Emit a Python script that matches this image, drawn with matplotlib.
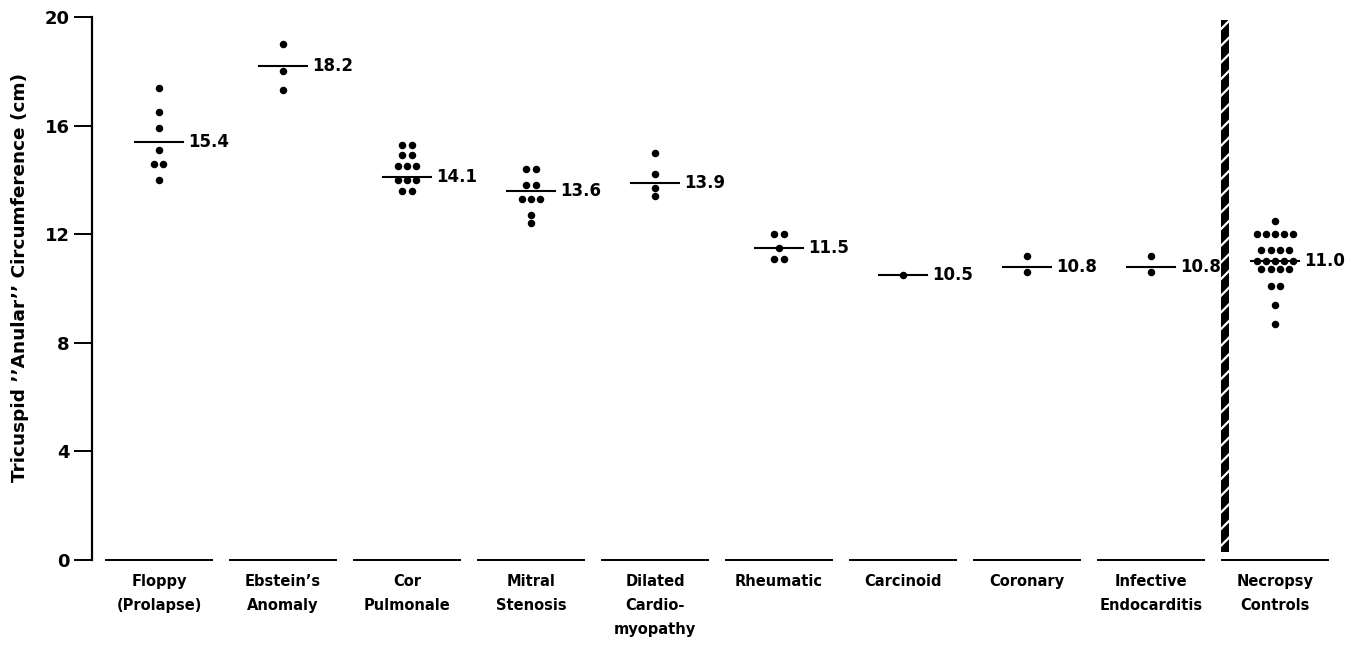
import matplotlib
matplotlib.use('Agg')
import matplotlib.pyplot as plt
from matplotlib.patches import Rectangle
import numpy as np

plt.rcParams['font.family'] = ['DejaVu Sans']
plt.rcParams['font.weight'] = 'bold'
plt.rcParams['hatch.linewidth'] = 1.6

# Groups, in the order they appear on the x axis
groups = ['Floppy\n(Prolapse)', 'Ebstein\u2019s\nAnomaly', 'Cor\nPulmonale',
          'Mitral\nStenosis', 'Dilated\nCardio-\nmyopathy', 'Rheumatic',
          'Carcinoid', 'Coronary', 'Infective\nEndocarditis', 'Necropsy\nControls']

floppy = [17.4, 16.5, 15.9, 15.1, 14.6, 14.6, 14.0]
ebstein = [19.0, 18.0, 17.3]
cor_pulmonale = [15.3, 15.3, 14.9, 14.9, 14.5, 14.5, 14.5, 14.0, 14.0, 14.0, 13.6, 13.6]
mitral = [14.4, 14.4, 13.8, 13.8, 13.3, 13.3, 13.3, 12.7, 12.4]
dilated = [15.0, 14.2, 13.7, 13.4]
rheumatic = [12.0, 12.0, 11.5, 11.1, 11.1]
carcinoid = [10.5]
coronary = [11.2, 10.6]
infective = [11.2, 10.6]
necropsy = [12.5, 12.0, 12.0, 12.0, 12.0, 12.0, 11.4, 11.4, 11.4, 11.4,
            11.0, 11.0, 11.0, 11.0, 11.0, 10.7, 10.7, 10.7, 10.7,
            10.1, 10.1, 9.4, 8.7]
values = [floppy, ebstein, cor_pulmonale, mitral, dilated, rheumatic,
          carcinoid, coronary, infective, necropsy]

# Group means as printed
means = [15.4, 18.2, 14.1, 13.6, 13.9, 11.5, 10.5, 10.8, 10.8, 11.0]
mean_labels = ['15.4', '18.2', '14.1', '13.6', '13.9', '11.5', '10.5', '10.8', '10.8', '11.0']

yticks = [0, 4, 8, 12, 16, 20]
divider_x = 8.597


def main():
    fig = plt.figure(figsize=(13.53, 6.53), dpi=100)
    ax = fig.add_axes([0.068, 0.1424, 0.9202, 0.8316])

    dot_gap = 0.073
    for i, vals in enumerate(values):
        # spread tied values side by side
        uniq, counts = np.unique(vals, return_counts=True)
        for v, n in zip(uniq, counts):
            xs = i + (np.arange(n) - (n - 1) / 2) * dot_gap
            ax.plot(xs, [v] * n, 'o', color='black', markersize=4.4, clip_on=False)
        ax.plot([i - 0.19, i + 0.19], [means[i], means[i]], color='black', lw=1.5)
        ax.text(i + 0.235, means[i], mean_labels[i], fontsize=12, fontweight='bold',
                va='center', ha='left')
        # baseline piece under each group
        ax.plot([i - 0.43, i + 0.43], [0, 0], color='black', lw=1.4, clip_on=False)

    # hatched divider between disease groups and controls
    ax.add_patch(Rectangle((divider_x - 0.032, 0.3), 0.064, 19.6, facecolor='black',
                           edgecolor='white', hatch='//', lw=0, clip_on=False))

    ax.set_xlim(-0.54, 9.5)
    ax.set_ylim(0, 20)
    ax.set_yticks(yticks)
    ax.set_yticklabels([str(t) for t in yticks], fontsize=13, fontweight='bold')
    ax.set_xticks(range(len(groups)))
    ax.set_xticklabels(groups, fontsize=10.5, fontweight='bold', linespacing=1.75, va='top')
    ax.tick_params(axis='x', length=0, pad=10)
    ax.tick_params(axis='y', direction='out', length=13, width=1.4, pad=3)
    for side in ['top', 'right', 'bottom']:
        ax.spines[side].set_visible(False)
    ax.spines['left'].set_linewidth(1.6)
    ax.set_ylabel('Tricuspid \u2019\u2019Anular\u2019\u2019 Circumference (cm)',
                  fontsize=13.3, fontweight='bold')
    ax.yaxis.set_label_coords(-0.051, 0.52)

    fig.savefig('out.png', dpi=100)


if __name__ == "__main__": main()
